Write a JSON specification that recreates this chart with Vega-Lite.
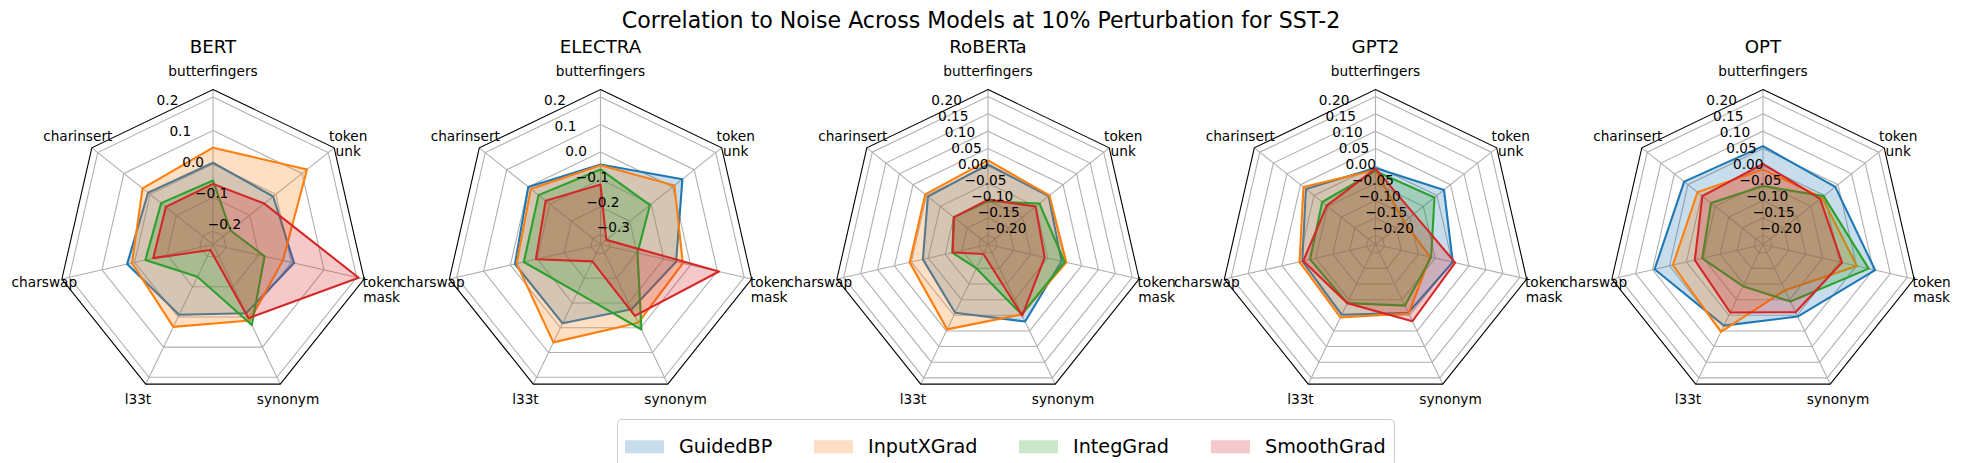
{
  "$schema": "https://vega.github.io/schema/vega-lite/v6.json",
  "description": "Radar charts: correlation to noise across models at 10% perturbation for SST-2.",
  "width": 1962,
  "height": 423,
  "autosize": {"type": "none"},
  "padding": {"top": 40, "left": 0, "right": 0, "bottom": 0},
  "title": {
    "text": "Correlation to Noise Across Models at 10% Perturbation for SST-2",
    "fontSize": 22.1,
    "font": "DejaVu Sans",
    "fontWeight": "normal",
    "color": "black",
    "anchor": "middle",
    "frame": "group",
    "offset": 5
  },
  "datasets": {
    "ticks": [
      {"model": "BERT", "ticks": [-0.2, -0.1, 0, 0.1, 0.2]},
      {"model": "ELECTRA", "ticks": [-0.3, -0.2, -0.1, 0, 0.1, 0.2]},
      {"model": "RoBERTa", "ticks": [-0.2, -0.15, -0.1, -0.05, 0, 0.05, 0.1, 0.15, 0.2]},
      {"model": "GPT2", "ticks": [-0.2, -0.15, -0.1, -0.05, 0, 0.05, 0.1, 0.15, 0.2]},
      {"model": "OPT", "ticks": [-0.2, -0.15, -0.1, -0.05, 0, 0.05, 0.1, 0.15, 0.2]}
    ],
    "scores": [
      {"model": "BERT", "method": "GuidedBP", "axis": "butterfingers", "value": 0.004},
      {"model": "BERT", "method": "GuidedBP", "axis": "token unk", "value": -0.010},
      {"model": "BERT", "method": "GuidedBP", "axis": "token mask", "value": 0.008},
      {"model": "BERT", "method": "GuidedBP", "axis": "synonym", "value": -0.012},
      {"model": "BERT", "method": "GuidedBP", "axis": "l33t", "value": -0.007},
      {"model": "BERT", "method": "GuidedBP", "axis": "charswap", "value": 0.023},
      {"model": "BERT", "method": "GuidedBP", "axis": "charinsert", "value": 0.008},
      {"model": "BERT", "method": "InputXGrad", "axis": "butterfingers", "value": 0.049},
      {"model": "BERT", "method": "InputXGrad", "axis": "token unk", "value": 0.119},
      {"model": "BERT", "method": "InputXGrad", "axis": "token mask", "value": -0.026},
      {"model": "BERT", "method": "InputXGrad", "axis": "synonym", "value": 0.012},
      {"model": "BERT", "method": "InputXGrad", "axis": "l33t", "value": 0.033},
      {"model": "BERT", "method": "InputXGrad", "axis": "charswap", "value": 0.008},
      {"model": "BERT", "method": "InputXGrad", "axis": "charinsert", "value": 0.029},
      {"model": "BERT", "method": "IntegGrad", "axis": "butterfingers", "value": -0.049},
      {"model": "BERT", "method": "IntegGrad", "axis": "token unk", "value": -0.173},
      {"model": "BERT", "method": "IntegGrad", "axis": "token mask", "value": -0.082},
      {"model": "BERT", "method": "IntegGrad", "axis": "synonym", "value": 0.027},
      {"model": "BERT", "method": "IntegGrad", "axis": "l33t", "value": -0.133},
      {"model": "BERT", "method": "IntegGrad", "axis": "charswap", "value": -0.033},
      {"model": "BERT", "method": "IntegGrad", "axis": "charinsert", "value": -0.042},
      {"model": "BERT", "method": "SmoothGrad", "axis": "butterfingers", "value": -0.059},
      {"model": "BERT", "method": "SmoothGrad", "axis": "token unk", "value": -0.044},
      {"model": "BERT", "method": "SmoothGrad", "axis": "token mask", "value": 0.206},
      {"model": "BERT", "method": "SmoothGrad", "axis": "synonym", "value": 0.004},
      {"model": "BERT", "method": "SmoothGrad", "axis": "l33t", "value": -0.222},
      {"model": "BERT", "method": "SmoothGrad", "axis": "charswap", "value": -0.057},
      {"model": "BERT", "method": "SmoothGrad", "axis": "charinsert", "value": -0.060},
      {"model": "ELECTRA", "method": "GuidedBP", "axis": "butterfingers", "value": -0.045},
      {"model": "ELECTRA", "method": "GuidedBP", "axis": "token unk", "value": 0.045},
      {"model": "ELECTRA", "method": "GuidedBP", "axis": "token mask", "value": -0.054},
      {"model": "ELECTRA", "method": "GuidedBP", "axis": "synonym", "value": -0.075},
      {"model": "ELECTRA", "method": "GuidedBP", "axis": "l33t", "value": -0.018},
      {"model": "ELECTRA", "method": "GuidedBP", "axis": "charswap", "value": -0.017},
      {"model": "ELECTRA", "method": "GuidedBP", "axis": "charinsert", "value": 0.000},
      {"model": "ELECTRA", "method": "InputXGrad", "axis": "butterfingers", "value": -0.048},
      {"model": "ELECTRA", "method": "InputXGrad", "axis": "token unk", "value": 0.008},
      {"model": "ELECTRA", "method": "InputXGrad", "axis": "token mask", "value": -0.029},
      {"model": "ELECTRA", "method": "InputXGrad", "axis": "synonym", "value": -0.020},
      {"model": "ELECTRA", "method": "InputXGrad", "axis": "l33t", "value": 0.059},
      {"model": "ELECTRA", "method": "InputXGrad", "axis": "charswap", "value": -0.023},
      {"model": "ELECTRA", "method": "InputXGrad", "axis": "charinsert", "value": -0.012},
      {"model": "ELECTRA", "method": "IntegGrad", "axis": "butterfingers", "value": -0.063},
      {"model": "ELECTRA", "method": "IntegGrad", "axis": "token unk", "value": -0.106},
      {"model": "ELECTRA", "method": "IntegGrad", "axis": "token mask", "value": -0.198},
      {"model": "ELECTRA", "method": "IntegGrad", "axis": "synonym", "value": 0.007},
      {"model": "ELECTRA", "method": "IntegGrad", "axis": "l33t", "value": -0.142},
      {"model": "ELECTRA", "method": "IntegGrad", "axis": "charswap", "value": -0.050},
      {"model": "ELECTRA", "method": "IntegGrad", "axis": "charinsert", "value": -0.048},
      {"model": "ELECTRA", "method": "SmoothGrad", "axis": "butterfingers", "value": -0.118},
      {"model": "ELECTRA", "method": "SmoothGrad", "axis": "token unk", "value": -0.309},
      {"model": "ELECTRA", "method": "SmoothGrad", "axis": "token mask", "value": 0.106},
      {"model": "ELECTRA", "method": "SmoothGrad", "axis": "synonym", "value": -0.048},
      {"model": "ELECTRA", "method": "SmoothGrad", "axis": "l33t", "value": -0.268},
      {"model": "ELECTRA", "method": "SmoothGrad", "axis": "charswap", "value": -0.095},
      {"model": "ELECTRA", "method": "SmoothGrad", "axis": "charinsert", "value": -0.081},
      {"model": "RoBERTa", "method": "GuidedBP", "axis": "butterfingers", "value": 0.004},
      {"model": "RoBERTa", "method": "GuidedBP", "axis": "token unk", "value": -0.003},
      {"model": "RoBERTa", "method": "GuidedBP", "axis": "token mask", "value": -0.009},
      {"model": "RoBERTa", "method": "GuidedBP", "axis": "synonym", "value": 0.020},
      {"model": "RoBERTa", "method": "GuidedBP", "axis": "l33t", "value": -0.008},
      {"model": "RoBERTa", "method": "GuidedBP", "axis": "charswap", "value": -0.034},
      {"model": "RoBERTa", "method": "GuidedBP", "axis": "charinsert", "value": -0.005},
      {"model": "RoBERTa", "method": "InputXGrad", "axis": "butterfingers", "value": 0.016},
      {"model": "RoBERTa", "method": "InputXGrad", "axis": "token unk", "value": 0.000},
      {"model": "RoBERTa", "method": "InputXGrad", "axis": "token mask", "value": 0.005},
      {"model": "RoBERTa", "method": "InputXGrad", "axis": "synonym", "value": -0.003},
      {"model": "RoBERTa", "method": "InputXGrad", "axis": "l33t", "value": 0.045},
      {"model": "RoBERTa", "method": "InputXGrad", "axis": "charswap", "value": 0.005},
      {"model": "RoBERTa", "method": "InputXGrad", "axis": "charinsert", "value": 0.005},
      {"model": "RoBERTa", "method": "IntegGrad", "axis": "butterfingers", "value": -0.102},
      {"model": "RoBERTa", "method": "IntegGrad", "axis": "token unk", "value": -0.037},
      {"model": "RoBERTa", "method": "IntegGrad", "axis": "token mask", "value": 0.000},
      {"model": "RoBERTa", "method": "IntegGrad", "axis": "synonym", "value": -0.003},
      {"model": "RoBERTa", "method": "IntegGrad", "axis": "l33t", "value": -0.150},
      {"model": "RoBERTa", "method": "IntegGrad", "axis": "charswap", "value": -0.121},
      {"model": "RoBERTa", "method": "IntegGrad", "axis": "charinsert", "value": -0.100},
      {"model": "RoBERTa", "method": "SmoothGrad", "axis": "butterfingers", "value": -0.097},
      {"model": "RoBERTa", "method": "SmoothGrad", "axis": "token unk", "value": -0.051},
      {"model": "RoBERTa", "method": "SmoothGrad", "axis": "token mask", "value": -0.059},
      {"model": "RoBERTa", "method": "SmoothGrad", "axis": "synonym", "value": 0.001},
      {"model": "RoBERTa", "method": "SmoothGrad", "axis": "l33t", "value": -0.196},
      {"model": "RoBERTa", "method": "SmoothGrad", "axis": "charswap", "value": -0.122},
      {"model": "RoBERTa", "method": "SmoothGrad", "axis": "charinsert", "value": -0.101},
      {"model": "GPT2", "method": "GuidedBP", "axis": "butterfingers", "value": -0.006},
      {"model": "GPT2", "method": "GuidedBP", "axis": "token unk", "value": 0.026},
      {"model": "GPT2", "method": "GuidedBP", "axis": "token mask", "value": 0.002},
      {"model": "GPT2", "method": "GuidedBP", "axis": "synonym", "value": -0.008},
      {"model": "GPT2", "method": "GuidedBP", "axis": "l33t", "value": -0.002},
      {"model": "GPT2", "method": "GuidedBP", "axis": "charswap", "value": -0.010},
      {"model": "GPT2", "method": "GuidedBP", "axis": "charinsert", "value": 0.030},
      {"model": "GPT2", "method": "InputXGrad", "axis": "butterfingers", "value": -0.012},
      {"model": "GPT2", "method": "InputXGrad", "axis": "token unk", "value": -0.121},
      {"model": "GPT2", "method": "InputXGrad", "axis": "token mask", "value": -0.065},
      {"model": "GPT2", "method": "InputXGrad", "axis": "synonym", "value": -0.006},
      {"model": "GPT2", "method": "InputXGrad", "axis": "l33t", "value": 0.007},
      {"model": "GPT2", "method": "InputXGrad", "axis": "charswap", "value": -0.002},
      {"model": "GPT2", "method": "InputXGrad", "axis": "charinsert", "value": 0.039},
      {"model": "GPT2", "method": "IntegGrad", "axis": "butterfingers", "value": -0.015},
      {"model": "GPT2", "method": "IntegGrad", "axis": "token unk", "value": -0.009},
      {"model": "GPT2", "method": "IntegGrad", "axis": "token mask", "value": -0.062},
      {"model": "GPT2", "method": "IntegGrad", "axis": "synonym", "value": -0.031},
      {"model": "GPT2", "method": "IntegGrad", "axis": "l33t", "value": -0.039},
      {"model": "GPT2", "method": "IntegGrad", "axis": "charswap", "value": -0.033},
      {"model": "GPT2", "method": "IntegGrad", "axis": "charinsert", "value": -0.030},
      {"model": "GPT2", "method": "SmoothGrad", "axis": "butterfingers", "value": -0.008},
      {"model": "GPT2", "method": "SmoothGrad", "axis": "token unk", "value": -0.085},
      {"model": "GPT2", "method": "SmoothGrad", "axis": "token mask", "value": 0.009},
      {"model": "GPT2", "method": "SmoothGrad", "axis": "synonym", "value": 0.019},
      {"model": "GPT2", "method": "SmoothGrad", "axis": "l33t", "value": -0.039},
      {"model": "GPT2", "method": "SmoothGrad", "axis": "charswap", "value": -0.013},
      {"model": "GPT2", "method": "SmoothGrad", "axis": "charinsert", "value": -0.047},
      {"model": "OPT", "method": "GuidedBP", "axis": "butterfingers", "value": 0.057},
      {"model": "OPT", "method": "GuidedBP", "axis": "token unk", "value": 0.040},
      {"model": "OPT", "method": "GuidedBP", "axis": "token mask", "value": 0.105},
      {"model": "OPT", "method": "GuidedBP", "axis": "synonym", "value": 0.004},
      {"model": "OPT", "method": "GuidedBP", "axis": "l33t", "value": 0.033},
      {"model": "OPT", "method": "GuidedBP", "axis": "charswap", "value": 0.094},
      {"model": "OPT", "method": "GuidedBP", "axis": "charinsert", "value": 0.064},
      {"model": "OPT", "method": "InputXGrad", "axis": "butterfingers", "value": -0.010},
      {"model": "OPT", "method": "InputXGrad", "axis": "token unk", "value": -0.009},
      {"model": "OPT", "method": "InputXGrad", "axis": "token mask", "value": 0.051},
      {"model": "OPT", "method": "InputXGrad", "axis": "synonym", "value": -0.080},
      {"model": "OPT", "method": "InputXGrad", "axis": "l33t", "value": 0.053},
      {"model": "OPT", "method": "InputXGrad", "axis": "charswap", "value": 0.040},
      {"model": "OPT", "method": "InputXGrad", "axis": "charinsert", "value": 0.015},
      {"model": "OPT", "method": "IntegGrad", "axis": "butterfingers", "value": -0.058},
      {"model": "OPT", "method": "IntegGrad", "axis": "token unk", "value": -0.003},
      {"model": "OPT", "method": "IntegGrad", "axis": "token mask", "value": 0.086},
      {"model": "OPT", "method": "IntegGrad", "axis": "synonym", "value": -0.044},
      {"model": "OPT", "method": "IntegGrad", "axis": "l33t", "value": -0.093},
      {"model": "OPT", "method": "IntegGrad", "axis": "charswap", "value": -0.047},
      {"model": "OPT", "method": "IntegGrad", "axis": "charinsert", "value": -0.035},
      {"model": "OPT", "method": "SmoothGrad", "axis": "butterfingers", "value": 0.006},
      {"model": "OPT", "method": "SmoothGrad", "axis": "token unk", "value": -0.016},
      {"model": "OPT", "method": "SmoothGrad", "axis": "token mask", "value": 0.007},
      {"model": "OPT", "method": "SmoothGrad", "axis": "synonym", "value": -0.010},
      {"model": "OPT", "method": "SmoothGrad", "axis": "l33t", "value": -0.009},
      {"model": "OPT", "method": "SmoothGrad", "axis": "charswap", "value": -0.025},
      {"model": "OPT", "method": "SmoothGrad", "axis": "charinsert", "value": -0.003}
    ]
  },
  "data": {"name": "scores"},
  "transform": [
    {"calculate": "indexof(['BERT', 'ELECTRA', 'RoBERTa', 'GPT2', 'OPT'], datum.model)", "as": "p"},
    {"calculate": "indexof(['butterfingers', 'token unk', 'token mask', 'synonym', 'l33t', 'charswap', 'charinsert'], datum.axis)", "as": "k"},
    {"calculate": "datum.model === 'BERT' ? -0.240 : datum.model === 'ELECTRA' ? -0.336 : -0.2265", "as": "lo"},
    {"calculate": "datum.model === 'BERT' ? 0.2227 : datum.model === 'ELECTRA' ? 0.2276 : 0.2202", "as": "hi"},
    {"calculate": "2 * PI * datum.k / 7", "as": "theta"},
    {"calculate": "2.5 * datum.p", "as": "cx"},
    {"calculate": "0", "as": "cy"}
  ],
  "layer": [
    {
      "transform": [
        {"filter": "datum.method === 'GuidedBP'"},
        {"lookup": "model", "from": {"data": {"name": "ticks"}, "key": "model", "fields": ["ticks"]}},
        {"flatten": ["ticks"], "as": ["tick"]},
        {"calculate": "(datum.tick - datum.lo) / (datum.hi - datum.lo)", "as": "rn"},
        {"calculate": "datum.cx + datum.rn * sin(datum.theta)", "as": "px"},
        {"calculate": "datum.rn * cos(datum.theta)", "as": "py"}
      ],
      "mark": {"type": "line", "interpolate": "linear-closed", "stroke": "#b0b0b0", "strokeWidth": 1.1},
      "encoding": {
        "x": {"field": "px", "type": "quantitative", "scale": {"domain": [-1.3742, 11.2839], "nice": false, "zero": false}, "axis": null},
        "y": {"field": "py", "type": "quantitative", "scale": {"domain": [-1.4097, 1.3194], "nice": false, "zero": false}, "axis": null},
        "order": {"field": "k", "type": "quantitative"},
        "detail": [{"field": "model", "type": "nominal"}, {"field": "tick", "type": "nominal"}]
      }
    },
    {
      "transform": [
        {"filter": "datum.method === 'GuidedBP'"},
        {"calculate": "datum.cx + sin(datum.theta)", "as": "px"},
        {"calculate": "cos(datum.theta)", "as": "py"}
      ],
      "mark": {"type": "rule", "stroke": "#b0b0b0", "strokeWidth": 1.1},
      "encoding": {
        "x": {"field": "cx", "type": "quantitative"},
        "y": {"field": "cy", "type": "quantitative"},
        "x2": {"field": "px"},
        "y2": {"field": "py"}
      }
    },
    {
      "transform": [
        {"calculate": "(datum.value - datum.lo) / (datum.hi - datum.lo)", "as": "rn"},
        {"calculate": "datum.cx + datum.rn * sin(datum.theta)", "as": "px"},
        {"calculate": "datum.rn * cos(datum.theta)", "as": "py"}
      ],
      "mark": {"type": "line", "interpolate": "linear-closed", "strokeWidth": 2.1, "strokeJoin": "round", "fillOpacity": 0.25},
      "encoding": {
        "x": {"field": "px", "type": "quantitative"},
        "y": {"field": "py", "type": "quantitative"},
        "order": {"field": "k", "type": "quantitative"},
        "detail": {"field": "model", "type": "nominal"},
        "stroke": {
          "field": "method",
          "type": "nominal",
          "scale": {"domain": ["GuidedBP", "InputXGrad", "IntegGrad", "SmoothGrad"], "range": ["#1f77b4", "#ff7f0e", "#2ca02c", "#d62728"]},
          "legend": null
        },
        "fill": {
          "field": "method",
          "type": "nominal",
          "scale": {"domain": ["GuidedBP", "InputXGrad", "IntegGrad", "SmoothGrad"], "range": ["#1f77b4", "#ff7f0e", "#2ca02c", "#d62728"]},
          "legend": {
            "orient": "none",
            "legendX": 617,
            "legendY": 379,
            "direction": "horizontal",
            "columns": 4,
            "title": null,
            "symbolType": "M-1,-0.333L1,-0.333L1,0.333L-1,0.333Z",
            "symbolSize": 1521,
            "symbolStrokeWidth": 0,
            "labelFont": "DejaVu Sans",
            "labelFontSize": 19.2,
            "labelColor": "black",
            "labelOffset": 15,
            "columnPadding": 41,
            "padding": 8,
            "strokeColor": "#cccccc",
            "fillColor": "white",
            "cornerRadius": 4,
            "encode": {
              "symbols": {"update": {"fillOpacity": {"value": 0.25}, "strokeWidth": {"value": 0}, "opacity": {"value": 1}}}
            }
          }
        }
      }
    },
    {
      "transform": [
        {"filter": "datum.method === 'GuidedBP'"},
        {"calculate": "datum.cx + sin(datum.theta)", "as": "px"},
        {"calculate": "cos(datum.theta)", "as": "py"}
      ],
      "mark": {"type": "line", "interpolate": "linear-closed", "stroke": "black", "strokeWidth": 1.1},
      "encoding": {
        "x": {"field": "px", "type": "quantitative"},
        "y": {"field": "py", "type": "quantitative"},
        "order": {"field": "k", "type": "quantitative"},
        "detail": {"field": "model", "type": "nominal"}
      }
    },
    {
      "transform": [
        {"filter": "datum.method === 'GuidedBP' && datum.axis === 'butterfingers'"},
        {"lookup": "model", "from": {"data": {"name": "ticks"}, "key": "model", "fields": ["ticks"]}},
        {"flatten": ["ticks"], "as": ["tick"]},
        {"calculate": "(datum.tick - datum.lo) / (datum.hi - datum.lo)", "as": "rn"},
        {"calculate": "datum.cx - datum.rn * sin(PI / 8)", "as": "px"},
        {"calculate": "datum.rn * cos(PI / 8)", "as": "py"},
        {"calculate": "datum.model === 'BERT' || datum.model === 'ELECTRA' ? format(datum.tick, '.1f') : format(datum.tick, '.2f')", "as": "label"}
      ],
      "mark": {"type": "text", "align": "left", "baseline": "bottom", "fontSize": 13.7, "font": "DejaVu Sans", "fontWeight": "normal", "color": "black"},
      "encoding": {
        "x": {"field": "px", "type": "quantitative"},
        "y": {"field": "py", "type": "quantitative"},
        "text": {"field": "label"}
      }
    },
    {
      "transform": [
        {"filter": "datum.method === 'GuidedBP'"},
        {"calculate": "datum.cx + 1.116 * sin(datum.theta)", "as": "px"},
        {"calculate": "1.116 * cos(datum.theta)", "as": "py"},
        {"calculate": "replace(datum.axis, ' ', '\\n')", "as": "label"}
      ],
      "mark": {"type": "text", "align": "center", "baseline": "middle", "fontSize": 13.7, "font": "DejaVu Sans", "fontWeight": "normal", "color": "black", "lineBreak": "\n", "lineHeight": 15.5},
      "encoding": {
        "x": {"field": "px", "type": "quantitative"},
        "y": {"field": "py", "type": "quantitative"},
        "text": {"field": "label"}
      }
    },
    {
      "transform": [
        {"filter": "datum.method === 'GuidedBP' && datum.axis === 'butterfingers'"},
        {"calculate": "1.2658", "as": "ty"}
      ],
      "mark": {"type": "text", "align": "center", "baseline": "middle", "fontSize": 18.2, "font": "DejaVu Sans", "fontWeight": "normal", "color": "black"},
      "encoding": {
        "x": {"field": "cx", "type": "quantitative"},
        "y": {"field": "ty", "type": "quantitative"},
        "text": {"field": "model"}
      }
    }
  ],
  "config": {
    "font": "DejaVu Sans",
    "view": {"stroke": null}
  }
}
